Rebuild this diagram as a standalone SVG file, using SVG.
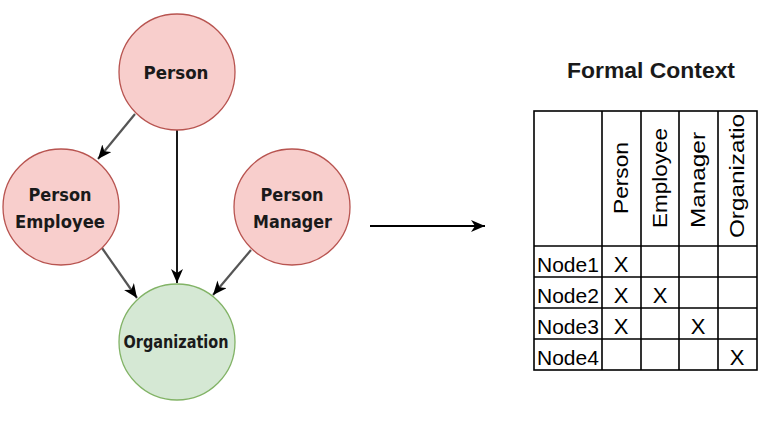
<svg xmlns="http://www.w3.org/2000/svg" width="772" height="431" viewBox="0 0 772 431">
<style>
.pink{fill:#f8cecc;stroke:#b85450;stroke-width:1.3}
.green{fill:#d5e8d4;stroke:#82b366;stroke-width:1.3}
.lbl{font-family:"DejaVu Sans",sans-serif;font-weight:bold;font-size:17.5px;fill:#1a1a1a;text-anchor:middle}
.edge{stroke:#000;stroke-width:1.8;fill:none;marker-end:url(#arr)}
.diag{stroke:#555;stroke-width:2.2}
.grid{stroke:#000;stroke-width:1.6;fill:none}
.cell{font-family:"Liberation Sans",Arial,sans-serif;font-size:21px;fill:#000}
.x{font-family:"Liberation Sans",Arial,sans-serif;font-size:22px;fill:#000;text-anchor:middle}
.hdr{font-family:"Liberation Sans",Arial,sans-serif;font-size:21px;fill:#000;text-anchor:middle}
.title{font-family:"Liberation Sans",Arial,sans-serif;font-size:22.5px;font-weight:bold;fill:#1a1a1a;text-anchor:middle}
</style>
<defs>
<marker id="arr" viewBox="0 0 14 12" refX="14" refY="6" markerWidth="14" markerHeight="12" markerUnits="userSpaceOnUse" orient="auto">
<path d="M0,0 L14,6 L0,12 L4,6 Z" fill="#000"/>
</marker>
</defs>
<rect width="772" height="431" fill="#fff"/>
<g id="connectors">
<line class="edge diag" x1="135" y1="114" x2="98" y2="159"/>
<line class="edge" x1="177" y1="130" x2="177" y2="283"/>
<line class="edge diag" x1="102" y1="248" x2="137" y2="298"/>
<line class="edge diag" x1="251" y1="250" x2="213" y2="295"/>
<line class="edge" x1="370" y1="226" x2="485" y2="226"/>
</g>
<g id="node-person">
<circle class="pink" cx="177" cy="72" r="58"/>
<text class="lbl" x="176" y="79" textLength="65" lengthAdjust="spacingAndGlyphs">Person</text>
</g>
<g id="node-person-employee">
<circle class="pink" cx="61" cy="207" r="58"/>
<text class="lbl" x="60" y="201" textLength="63" lengthAdjust="spacingAndGlyphs">Person</text>
<text class="lbl" x="60" y="228" textLength="90" lengthAdjust="spacingAndGlyphs">Employee</text>
</g>
<g id="node-person-manager">
<circle class="pink" cx="292" cy="207" r="58"/>
<text class="lbl" x="292" y="201" textLength="63" lengthAdjust="spacingAndGlyphs">Person</text>
<text class="lbl" x="292.5" y="228" textLength="79" lengthAdjust="spacingAndGlyphs">Manager</text>
</g>
<g id="node-organization">
<circle class="green" cx="177" cy="342" r="58"/>
<text class="lbl" x="176" y="348" textLength="105" lengthAdjust="spacingAndGlyphs">Organization</text>
</g>
<g id="formal-context">
<text class="title" x="651" y="78" textLength="168" lengthAdjust="spacingAndGlyphs">Formal Context</text>
<rect class="grid" x="534" y="111" width="223" height="259"/>
<path class="grid" d="M602,111V370 M641,111V370 M679,111V370 M718,111V370 M534,246H757 M534,277H757 M534,308H757 M534,339H757"/>
<text class="hdr" transform="translate(628,178) rotate(-90)" textLength="72" lengthAdjust="spacingAndGlyphs">Person</text>
<text class="hdr" transform="translate(667,178) rotate(-90)" textLength="100" lengthAdjust="spacingAndGlyphs">Employee</text>
<text class="hdr" transform="translate(705,180) rotate(-90)" textLength="96" lengthAdjust="spacingAndGlyphs">Manager</text>
<text class="hdr" transform="translate(744,176) rotate(-90)" textLength="124" lengthAdjust="spacingAndGlyphs">Organizatio</text>
<text class="cell" x="537" y="272">Node1</text>
<text class="cell" x="537" y="303">Node2</text>
<text class="cell" x="537" y="334">Node3</text>
<text class="cell" x="537" y="365">Node4</text>
<text class="x" x="621" y="272">X</text>
<text class="x" x="621" y="303">X</text>
<text class="x" x="660" y="303">X</text>
<text class="x" x="621" y="334">X</text>
<text class="x" x="698" y="334">X</text>
<text class="x" x="737" y="365">X</text>
</g>
</svg>
